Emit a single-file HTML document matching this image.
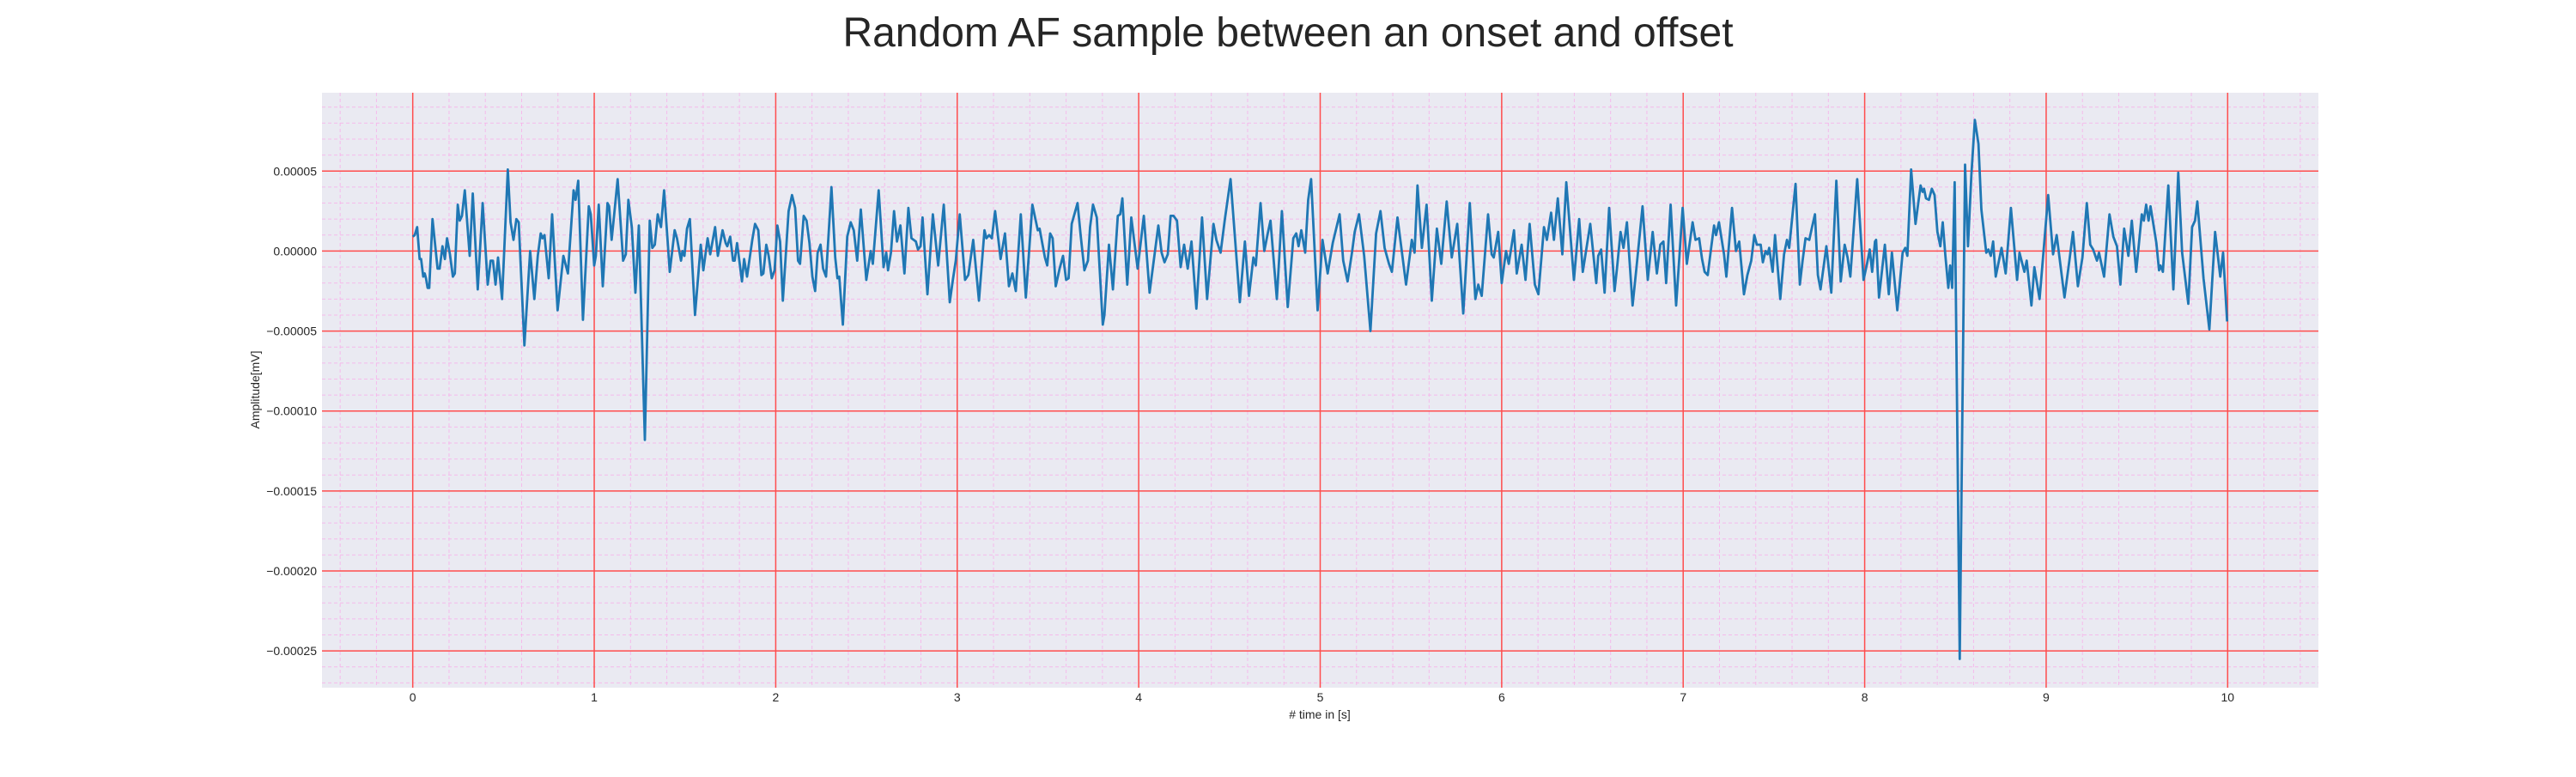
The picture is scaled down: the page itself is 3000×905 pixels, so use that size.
<!DOCTYPE html>
<html><head><meta charset="utf-8"><title>Random AF sample</title>
<style>
html,body{margin:0;padding:0;background:#fff;}
svg text{font-family:"Liberation Sans","DejaVu Sans",sans-serif;fill:#262626;}
</style></head>
<body>
<svg id="chart" width="3000" height="900" viewBox="0 0 3000 900" xmlns="http://www.w3.org/2000/svg">
<text x="1500" y="54" font-size="48" text-anchor="middle">Random AF sample between an onset and offset</text>
<rect x="375" y="108" width="2325" height="693" fill="#eaeaf2"/>
<g id="grid"></g>
<g id="ticks"></g>
<polyline id="signal" fill="none" stroke="#1f77b4" stroke-width="2.8" stroke-linejoin="round"/>
<text x="1537" y="837" font-size="14" text-anchor="middle"># time in [s]</text>
<text x="0" y="0" font-size="14" text-anchor="middle" transform="translate(302,454) rotate(-90)">Amplitude[mV]</text>
</svg>
<script>
const xTicks = [0,1,2,3,4,5,6,7,8,9,10];
const xTickLabels = ["0","1","2","3","4","5","6","7","8","9","10"];
const yTicks = [0.00005,0,-0.00005,-0.0001,-0.00015,-0.0002,-0.00025];
const yTickLabels = ["0.00005","0.00000","\u22120.00005","\u22120.00010","\u22120.00015","\u22120.00020","\u22120.00025"];
// time (s)
const times = [0.000,0.011,0.024,0.038,0.046,0.058,0.066,0.073,0.082,0.091,0.109,0.137,0.148,0.164,0.177,0.189,0.205,0.221,0.232,0.248,0.259,0.271,0.287,0.314,0.331,0.358,0.385,0.413,0.429,0.442,0.456,0.470,0.492,0.524,0.539,0.555,0.571,0.584,0.615,0.647,0.670,0.689,0.705,0.715,0.726,0.749,0.768,0.798,0.830,0.855,0.886,0.897,0.912,0.938,0.970,0.981,1.000,1.009,1.025,1.047,1.073,1.082,1.096,1.110,1.129,1.159,1.174,1.188,1.207,1.227,1.246,1.279,1.306,1.320,1.334,1.350,1.368,1.385,1.416,1.443,1.456,1.478,1.486,1.497,1.511,1.527,1.555,1.587,1.601,1.625,1.639,1.666,1.681,1.707,1.724,1.733,1.749,1.765,1.774,1.787,1.814,1.826,1.842,1.871,1.886,1.904,1.921,1.932,1.948,1.961,1.978,1.994,2.009,2.024,2.039,
2.071,2.090,2.107,2.123,2.134,2.154,2.170,2.186,2.202,2.217,2.231,2.247,2.261,2.277,2.307,2.328,2.340,2.350,2.370,2.394,2.413,2.430,2.449,2.469,2.499,2.523,2.535,2.567,2.594,2.609,2.619,2.635,2.652,2.668,2.687,2.709,2.731,2.748,2.772,2.784,2.798,2.809,2.836,2.866,2.895,2.926,2.959,2.976,2.992,3.014,3.043,3.061,3.088,3.120,3.150,3.161,3.176,3.191,3.209,3.239,3.263,3.285,3.304,3.323,3.350,3.378,3.414,3.444,3.454,3.483,3.496,3.512,3.526,3.543,3.564,3.583,3.600,3.614,3.631,3.663,3.680,3.701,3.720,3.732,3.748,3.769,3.802,3.811,3.836,3.858,3.885,3.898,3.910,3.937,3.959,3.994,4.028,4.060,
4.108,4.126,4.142,4.160,4.176,4.192,4.211,4.231,4.250,4.270,4.291,4.318,4.349,4.377,4.412,4.428,4.451,4.475,4.506,4.557,4.585,4.608,4.632,4.645,4.671,4.692,4.711,4.726,4.761,4.789,4.821,4.852,4.868,4.881,4.896,4.917,4.934,4.950,4.986,5.013,5.041,5.069,5.107,5.127,5.151,5.175,5.190,5.214,5.242,5.277,5.308,5.332,5.355,5.379,5.395,5.426,5.473,5.505,5.520,5.536,5.560,5.586,5.615,5.643,5.667,5.697,5.725,5.755,5.788,5.824,5.855,5.871,5.890,5.925,5.945,5.956,5.981,6.000,6.024,6.039,
6.068,6.083,6.110,6.131,6.154,6.183,6.202,6.233,6.249,6.272,6.288,6.309,6.334,6.356,6.398,6.427,6.447,6.488,6.521,6.532,6.548,6.567,6.592,6.622,6.635,6.655,6.671,6.690,6.721,6.742,6.776,6.805,6.832,6.855,6.874,6.891,6.906,6.931,6.961,6.997,7.020,7.052,7.068,7.088,7.104,7.118,7.135,7.154,7.170,7.181,7.197,7.225,7.238,7.269,7.291,7.309,7.335,7.354,7.375,7.392,7.406,7.427,7.439,7.454,7.465,7.474,7.493,7.506,7.535,7.556,7.572,7.584,7.619,7.643,7.658,7.674,7.695,7.710,7.726,7.742,7.757,7.789,7.816,7.844,7.868,7.890,7.906,7.921,7.959,7.994,8.013,8.028,8.041,8.057,
8.063,8.079,8.111,8.133,8.150,8.180,8.209,8.224,8.235,8.256,8.280,8.308,8.319,8.327,8.338,8.354,8.370,8.385,8.401,8.417,8.430,8.445,8.461,8.471,8.482,8.496,8.524,8.553,8.569,8.588,8.607,8.627,8.643,8.670,8.682,8.695,8.708,8.722,8.754,8.777,8.806,8.840,8.853,8.880,8.893,8.919,8.935,8.964,9.011,9.038,9.058,9.101,9.128,9.148,9.175,9.200,9.224,9.243,9.259,9.280,9.291,9.319,9.349,9.370,9.390,9.409,9.430,9.453,9.472,9.496,9.527,9.538,9.551,9.564,9.575,9.607,9.622,9.630,9.643,9.673,9.701,9.728,9.749,9.783,9.804,9.820,9.833,9.867,9.899,9.931,9.959,9.975,9.997];
// amplitude in units of 1e-5 mV
const amplitudes = [0.9,1.0,1.5,-0.5,-0.5,-1.6,-1.4,-1.7,-2.3,-2.3,2.0,-1.1,-1.1,0.3,-0.5,0.8,-0.2,-1.6,-1.4,2.9,1.9,2.2,3.8,-0.3,3.6,-2.4,3.0,-2.1,-0.6,-0.6,-2.1,-0.4,-3.0,5.1,1.8,0.7,2.0,1.8,-5.9,0.0,-3.0,-0.3,1.1,0.8,1.0,-1.7,2.3,-3.7,-0.3,-1.4,3.8,3.2,4.4,-4.3,2.8,2.3,-0.9,-0.3,2.9,-2.2,3.0,2.8,0.7,2.3,4.5,-0.6,-0.2,3.2,1.5,-2.6,1.6,-11.8,1.9,0.2,0.4,2.3,1.5,3.8,-1.3,1.3,0.8,-0.6,0.0,-0.3,1.4,2.0,-4.0,0.4,-1.2,0.8,-0.2,1.5,-0.3,1.3,0.5,0.3,0.9,-0.6,-0.6,0.5,-1.9,-0.5,-1.6,0.7,1.7,1.3,-1.5,-1.4,0.4,-0.3,-1.7,-1.2,1.6,0.6,-3.1,
2.5,3.5,2.7,-0.6,-0.8,2.2,1.9,0.5,-1.6,-2.5,-0.1,0.4,-1.1,-1.6,4.0,-0.4,-1.7,-1.6,-4.6,0.9,1.8,1.3,-0.6,2.6,-1.8,0.0,-0.8,3.8,-1.0,-0.1,-1.2,-0.1,2.5,0.6,1.6,-1.4,2.7,0.8,0.6,0.1,0.3,2.1,-2.7,2.3,-0.9,2.9,-3.2,-1.8,-0.6,2.3,-1.8,-1.5,0.7,-3.1,1.3,0.8,1.0,0.8,2.5,-0.5,1.1,-2.2,-1.4,-2.5,2.3,-2.9,2.9,1.3,1.4,-0.4,-0.9,1.1,0.8,-2.2,-1.1,-0.3,-1.8,-1.7,1.7,3.0,1.0,-1.2,-0.6,1.5,2.9,2.1,-4.6,-4.0,0.4,-2.4,2.2,2.3,3.3,-2.1,2.1,-1.1,2.2,-2.6,
1.6,-0.1,-0.7,-0.2,2.2,2.2,1.9,-1.0,0.4,-1.1,0.6,-3.6,2.1,-3.0,1.7,0.7,-0.1,2.0,4.5,-3.2,0.6,-2.8,-0.4,-0.9,3.0,0.0,1.1,1.9,-3.0,2.5,-3.5,0.8,1.1,0.3,1.3,-0.1,3.2,4.5,-3.7,0.7,-1.4,0.5,2.3,-0.6,-1.9,-0.1,1.2,2.3,-0.3,-5.0,1.1,2.5,0.2,-0.8,-1.3,2.1,-2.1,0.7,-0.1,4.1,0.2,2.9,-3.1,1.4,-0.8,3.1,-0.4,1.7,-3.9,3.0,-3.0,-2.1,-2.8,2.3,-0.2,-0.4,1.2,-2.0,0.0,-0.8,
1.3,-1.4,0.4,-1.8,1.7,-2.1,-2.7,1.5,0.7,2.4,0.7,3.3,-0.2,4.3,-1.8,2.0,-1.3,1.7,-2.0,-0.3,0.1,-2.6,2.7,-2.5,-1.1,1.2,0.2,1.8,-3.4,-1.1,2.8,-1.8,1.2,-1.4,0.4,0.6,-2.0,2.9,-3.4,2.7,-0.8,1.8,0.7,0.8,-0.5,-1.3,-1.5,0.2,1.6,1.0,1.8,-0.2,-1.6,2.7,0.0,0.6,-2.7,-1.5,-0.6,1.0,0.4,0.4,-0.7,0.0,-0.2,0.2,-1.3,1.0,-3.0,-0.2,0.7,0.2,4.2,-2.1,-0.6,0.8,0.7,1.5,2.3,-1.5,-2.4,0.3,-2.6,4.4,-1.9,0.4,-0.4,-1.6,4.5,-1.8,-0.8,0.1,-1.3,0.6,
0.7,-2.9,0.4,-2.7,-0.1,-3.7,-0.1,0.2,-0.3,5.1,1.7,4.1,3.7,3.9,3.3,3.2,3.9,3.5,1.2,0.3,1.8,-0.3,-2.3,-0.9,-2.3,4.3,-25.5,5.4,0.3,4.8,8.2,6.7,2.6,-0.1,0.1,-0.3,0.6,-1.6,0.2,-1.4,2.7,-1.8,-0.1,-1.3,-0.6,-3.4,-1.0,-3.0,3.5,-0.2,1.0,-2.9,-0.6,1.2,-2.2,-0.4,3.0,0.4,0.1,-0.6,-0.1,-1.6,2.3,0.9,0.3,-2.1,1.4,-0.3,1.9,-1.3,2.3,1.9,2.9,1.9,2.8,0.5,-1.2,-0.9,-1.3,4.1,-2.4,4.9,-0.1,-3.3,1.5,1.9,3.1,-1.7,-4.9,1.2,-1.6,-0.1,-4.4];

const NS='http://www.w3.org/2000/svg';
const L=375,R=2700,T=108,B=801;
const xMin=-0.5,xMax=10.5,yMin=-0.000273,yMax=0.0000990;
function xs(t){return L+(t-xMin)/(xMax-xMin)*(R-L);}
function ys(v){return T+(yMax-v)/(yMax-yMin)*(B-T);}
function mk(tag,attrs,parent){const e=document.createElementNS(NS,tag);for(const k in attrs)e.setAttribute(k,attrs[k]);parent.appendChild(e);return e;}
const grid=document.getElementById('grid');
const ticks=document.getElementById('ticks');
for(let i=-3;i<=53;i++){const t=i*0.2; if(t<xMin||t>xMax)continue; if(i%5===0)continue;
  const ln=mk('line',{x1:xs(t),x2:xs(t),y1:T,y2:B,stroke:'#f7b3ea','stroke-width':1,'stroke-dasharray':'4,3','stroke-opacity':0.85},grid);
  
  
}
for(let i=-28;i<=10;i++){const v=i*1e-5; if(v<yMin||v>yMax)continue; if(i%5===0)continue;
  const ln=mk('line',{x1:L,x2:R,y1:ys(v),y2:ys(v),stroke:'#f7b3ea','stroke-width':1,'stroke-dasharray':'4,3','stroke-opacity':0.85},grid);
  
  
}
xTicks.forEach((t,i)=>{
  const ln=mk('line',{x1:xs(t),x2:xs(t),y1:T,y2:B,stroke:'#ff4d4d','stroke-width':1.5},grid);
  
  
  const tx=mk('text',{x:xs(t),y:817,'font-size':14,'text-anchor':'middle'},ticks);
  tx.textContent=xTickLabels[i];
  
  
});
yTicks.forEach((v,i)=>{
  const ln=mk('line',{x1:L,x2:R,y1:ys(v),y2:ys(v),stroke:'#ff4d4d','stroke-width':1.5},grid);
  
  
  const tx=mk('text',{x:369,y:ys(v)+5,'font-size':14,'text-anchor':'end'},ticks);
  tx.textContent=yTickLabels[i];
  
  
});
const pts=times.map((t,i)=>xs(t).toFixed(1)+','+ys(amplitudes[i]*1e-5).toFixed(1)).join(' ');
document.getElementById('signal').setAttribute('points',pts);
</script>
</body></html>
